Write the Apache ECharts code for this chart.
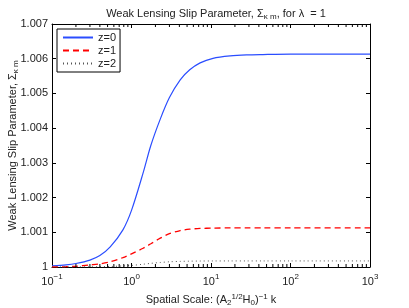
<!DOCTYPE html>
<html>
<head>
<meta charset="utf-8">
<script src="https://cdn.jsdelivr.net/npm/echarts@6/dist/echarts.min.js"></script>
<style>
html,body{margin:0;padding:0;background:#fff;}
#c{width:409px;height:308px;}
</style>
</head>
<body>
<div id="c"></div>
<script>
// Spatial scale k values (log axis)
const kValues = [0.1, 0.15, 0.2, 0.3, 0.4, 0.54, 0.78, 1.0, 1.4, 1.75, 2.3, 3.0, 4.1, 5.4, 7.3, 10.6, 17.4, 28, 45, 100, 1000];
// Sigma values for each redshift
const sigmaZ0 = [1.00003, 1.00006, 1.0001, 1.0002, 1.00033, 1.00058, 1.00107, 1.00163, 1.00271, 1.0035, 1.00426, 1.00488, 1.00539, 1.00568, 1.00588, 1.00601, 1.00608, 1.00611, 1.00612, 1.00613, 1.00613];
const sigmaZ1 = [1.0, 1.000008, 1.00002, 1.00006, 1.00009, 1.00015, 1.00027, 1.00038, 1.00054, 1.00067, 1.00083, 1.00096, 1.00105, 1.00109, 1.00111, 1.00112, 1.001125, 1.001125, 1.001125, 1.001125, 1.001125];
const sigmaZ2 = [1.0, 1.000001, 1.000002, 1.000005, 1.000008, 1.000015, 1.00003, 1.000045, 1.00008, 1.000105, 1.00013, 1.00015, 1.000162, 1.000168, 1.000172, 1.000174, 1.000175, 1.000175, 1.000175, 1.000175, 1.000175];
const seriesNames = ['z=0', 'z=1', 'z=2'];
const yMin = 1.0, yMax = 1.007, yStep = 0.001;
const xMin = 0.1, xMax = 1000;
// minor tick positions for the log axis
const minorTickValues = [];
for (let e = -1; e < 3; e++) {
  for (let m = 2; m <= 9; m++) minorTickValues.push(Number((m * Math.pow(10, e)).toPrecision(3)));
}

const FONT = 'Liberation Sans, Arial, Helvetica, sans-serif';
const pair = (arr) => kValues.map((k, i) => [k, arr[i]]);

const chart = echarts.init(document.getElementById('c'), null, {renderer: 'canvas'});
const supMap = {'-1': '\u22121', '0': '0', '1': '1', '2': '2', '3': '3'};

chart.setOption({
  animation: false,
  backgroundColor: '#fff',
  textStyle: {fontFamily: FONT},
  title: {
    text: 'Weak Lensing Slip Parameter, \u03a3{sub|\u03ba m}, for \u03bb  = 1',
    left: 211, top: 2, textAlign: 'center',
    textStyle: {
      fontFamily: FONT, fontSize: 11, fontWeight: 'normal', color: '#222',
      rich: {sub: {fontFamily: FONT, fontSize: 8, color: '#222', verticalAlign: 'bottom', padding: [6, 0, 0, 0]}}
    }
  },
  legend: {
    data: seriesNames,
    orient: 'vertical',
    left: 57, top: 29,
    itemWidth: 30, itemHeight: 11, itemGap: 2,
    padding: [3, 4, 3, 5],
    borderColor: '#000', borderWidth: 1,
    backgroundColor: '#fff',
    itemStyle: {opacity: 0, color: 'rgba(0,0,0,0)', borderWidth: 0},
    textStyle: {fontFamily: FONT, fontSize: 11, color: '#222'}
  },
  grid: {left: 52, top: 24, right: 39, bottom: 41, containLabel: false, outerBoundsMode: 'none'},
  xAxis: [{
    type: 'log', logBase: 10, min: xMin, max: xMax,
    position: 'bottom',
    name: 'Spatial Scale: (A{sub|2}{sup|1/2}H{sub|0}){sup|\u22121} k',
    nameLocation: 'middle', nameGap: 25, nameMoveOverlap: false,
    nameTextStyle: {
      fontFamily: FONT, fontSize: 11, color: '#222',
      rich: {
        sub: {fontFamily: FONT, fontSize: 8, color: '#222', padding: [7, 0, 0, 0]},
        sup: {fontFamily: FONT, fontSize: 8, color: '#222', padding: [0, 0, 6, 0]}
      }
    },
    axisLine: {show: true, lineStyle: {color: '#000', width: 1}},
    axisTick: {show: true, inside: true, length: 4, lineStyle: {color: '#000'}},
    splitLine: {show: false},
    axisLabel: {
      margin: 5, color: '#222',
      formatter: (v) => {
        const e = Math.round(Math.log10(v));
        return '{b|10}{s|' + (supMap[String(e)] || e) + '}';
      },
      rich: {
        b: {fontFamily: FONT, fontSize: 11, color: '#222', padding: [4, 0, 0, 0]},
        s: {fontFamily: FONT, fontSize: 8, color: '#222', padding: [0, 0, 5, 0]}
      }
    }
  }, {
    type: 'log', logBase: 10, min: xMin, max: xMax,
    position: 'top',
    axisLine: {show: true, lineStyle: {color: '#000', width: 1}},
    axisTick: {show: true, inside: true, length: 4, lineStyle: {color: '#000'}},
    axisLabel: {show: false},
    splitLine: {show: false}
  }],
  yAxis: [{
    type: 'value', min: yMin, max: yMax, interval: yStep,
    position: 'left',
    name: 'Weak Lensing Slip Parameter, \u03a3{sub|\u03ba m}',
    nameLocation: 'middle', nameGap: 32, nameRotate: 90, nameMoveOverlap: false,
    nameTextStyle: {
      fontFamily: FONT, fontSize: 11, color: '#222',
      rich: {sub: {fontFamily: FONT, fontSize: 8, color: '#222', padding: [7, 0, 0, 0]}}
    },
    axisLine: {show: true, lineStyle: {color: '#000', width: 1}},
    axisTick: {show: true, inside: true, length: 4, lineStyle: {color: '#000'}},
    splitLine: {show: false},
    axisLabel: {
      margin: 4, fontFamily: FONT, fontSize: 11, color: '#222',
      formatter: (v) => Math.abs(v - 1) < 1e-9 ? '1' : v.toFixed(3)
    }
  }, {
    type: 'value', min: yMin, max: yMax, interval: yStep,
    position: 'right',
    axisLine: {show: true, lineStyle: {color: '#000', width: 1}},
    axisTick: {show: true, inside: true, length: 4, lineStyle: {color: '#000'}},
    axisLabel: {show: false},
    splitLine: {show: false}
  }],
  series: [{
    name: seriesNames[0], type: 'line', data: pair(sigmaZ0),
    smooth: 0.3, showSymbol: false, symbol: 'none',
    lineStyle: {color: '#2a4dff', width: 1.2, type: 'solid'},
    itemStyle: {color: '#2a4dff'}
  }, {
    name: seriesNames[1], type: 'line', data: pair(sigmaZ1),
    smooth: 0.3, showSymbol: false, symbol: 'none',
    lineStyle: {color: '#ff0000', width: 1.3, type: [6, 4]},
    itemStyle: {color: '#ff0000'}
  }, {
    name: seriesNames[2], type: 'line', data: pair(sigmaZ2),
    smooth: 0.3, showSymbol: false, symbol: 'none',
    lineStyle: {color: '#555', width: 1, type: [1, 3]},
    itemStyle: {color: '#555'}
  }, {
    type: 'custom', silent: true, clip: false, z: 5,
    coordinateSystem: 'cartesian2d', xAxisIndex: 0, yAxisIndex: 0,
    data: minorTickValues.map(v => [v, yMin]),
    encode: {x: 0, y: 1},
    renderItem: (params, api) => {
      const v = api.value(0);
      const b = api.coord([v, yMin]);
      const t = api.coord([v, yMax]);
      return {
        type: 'group',
        children: [
          {type: 'line', shape: {x1: b[0], y1: b[1], x2: b[0], y2: b[1] - 3}, style: {stroke: '#000', lineWidth: 1}},
          {type: 'line', shape: {x1: t[0], y1: t[1], x2: t[0], y2: t[1] + 3}, style: {stroke: '#000', lineWidth: 1}}
        ]
      };
    }
  }]
});
</script>
</body>
</html>
